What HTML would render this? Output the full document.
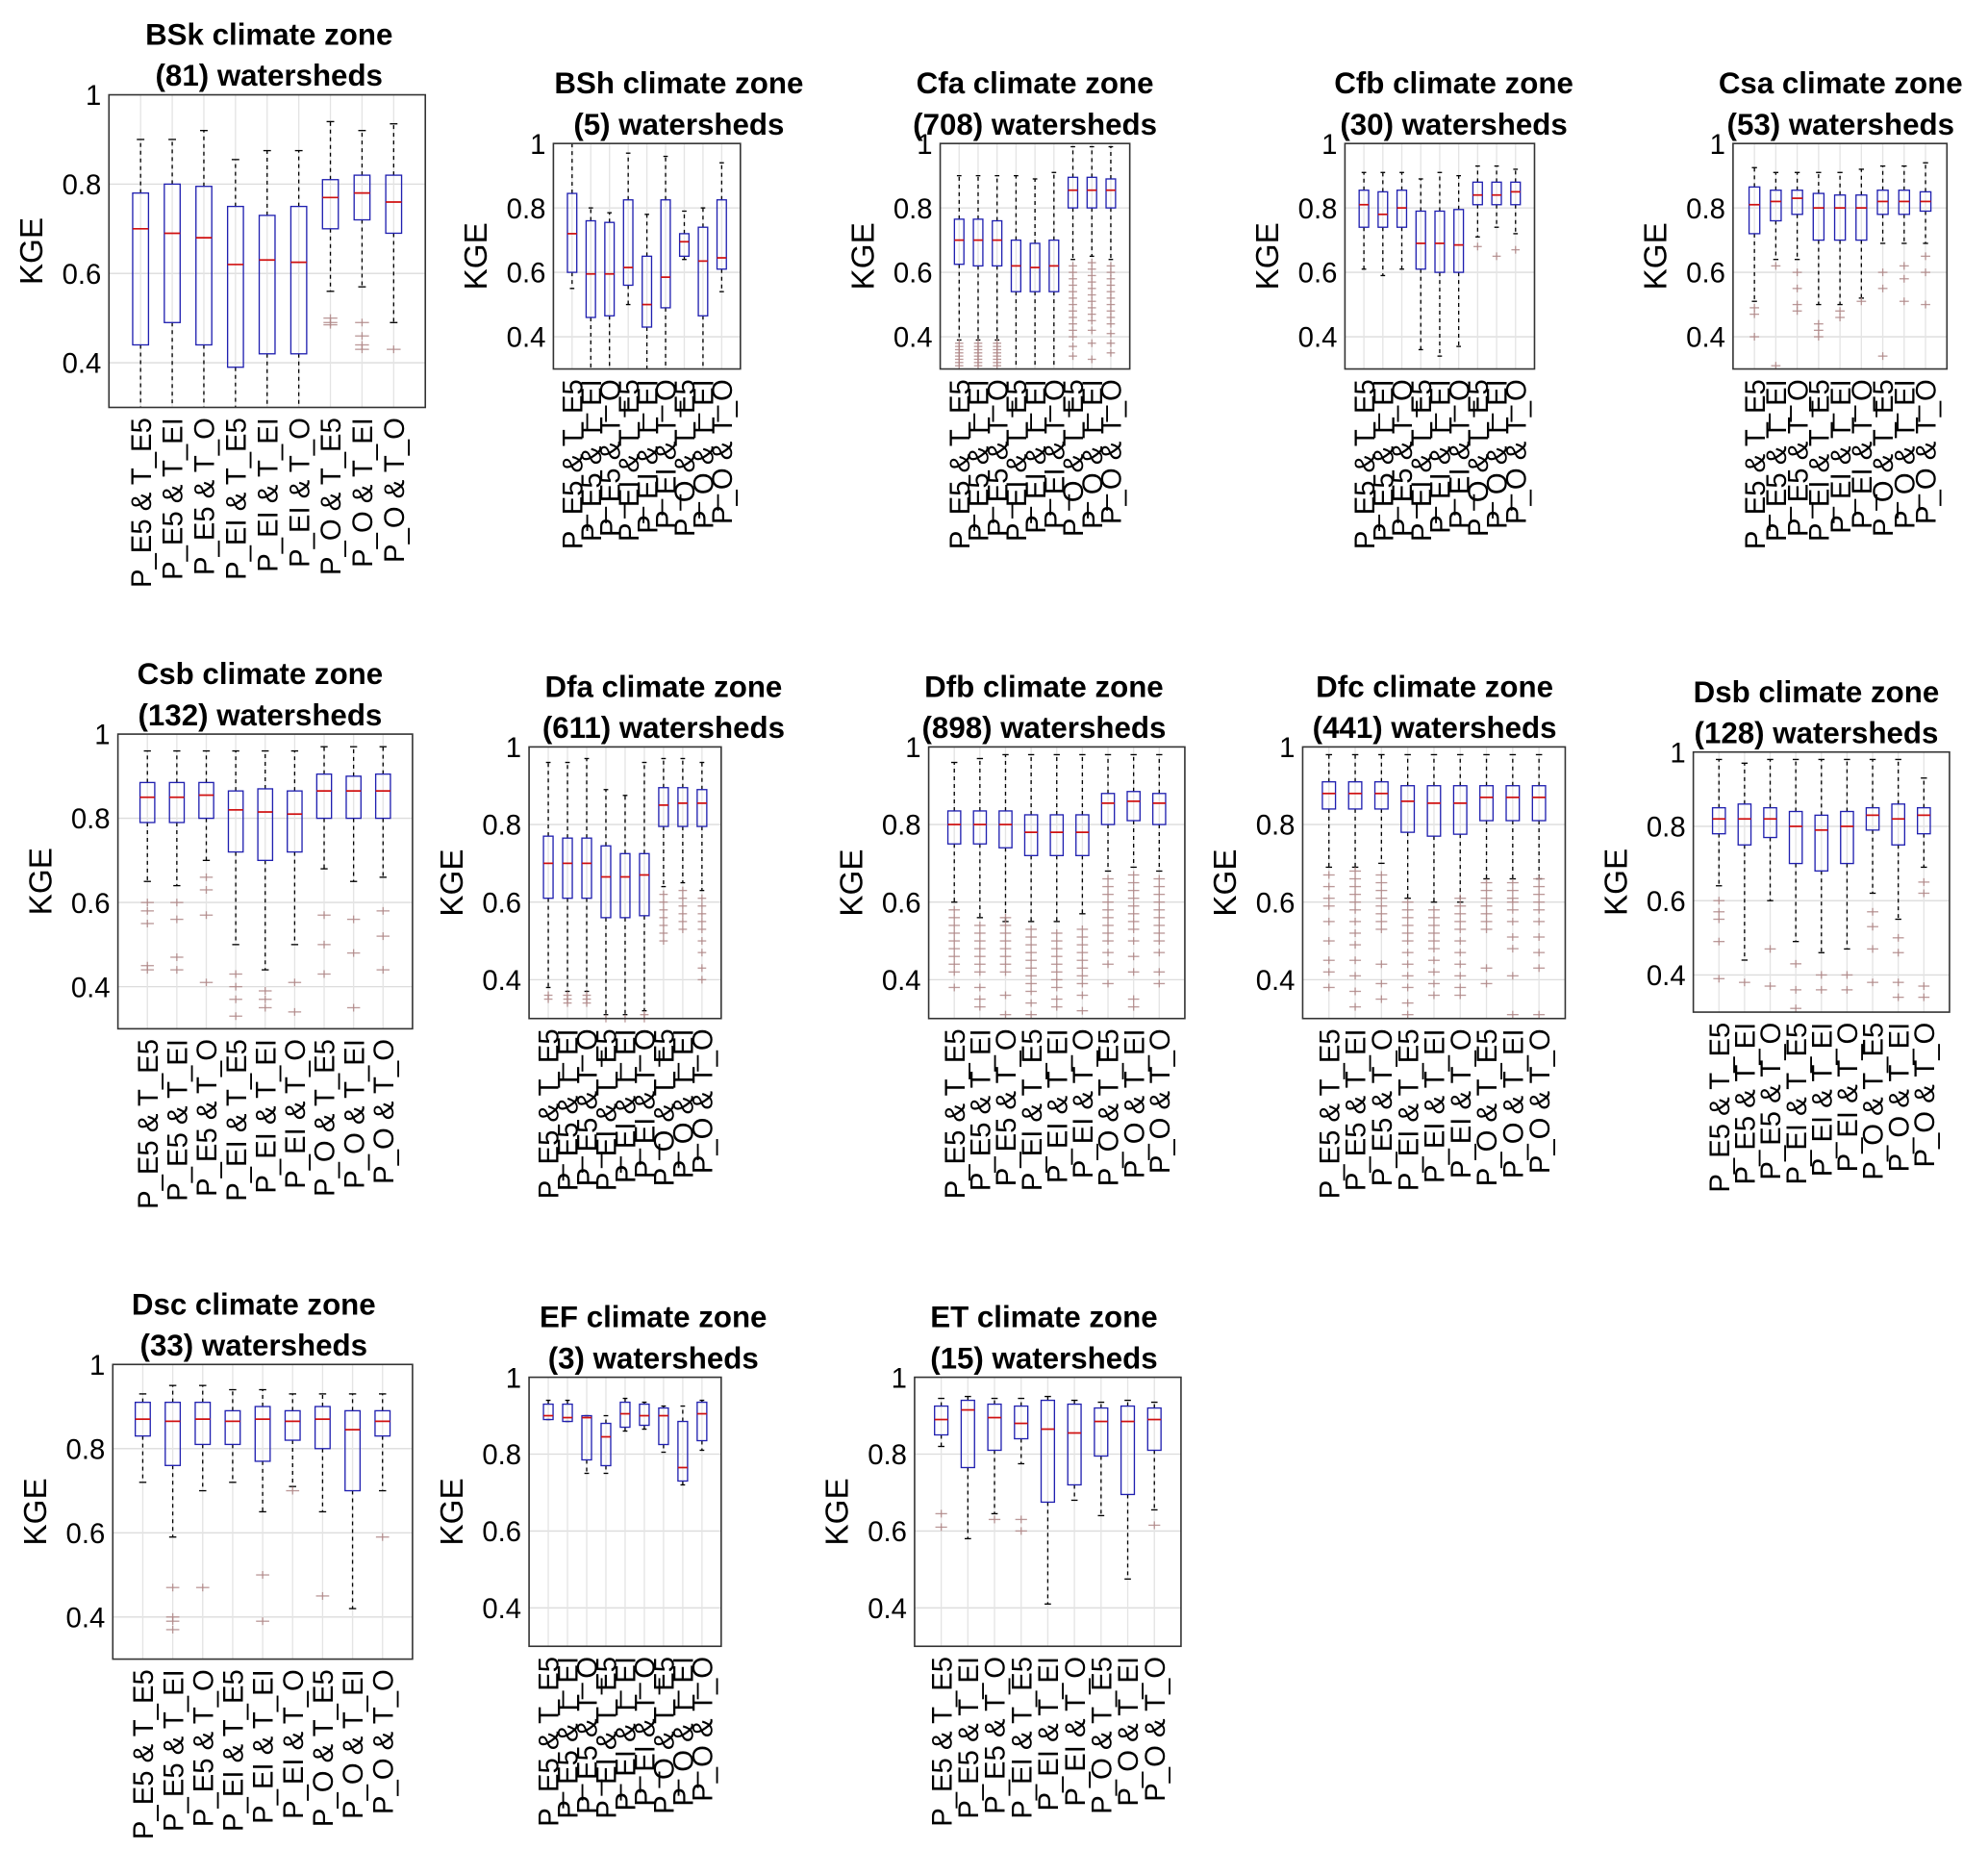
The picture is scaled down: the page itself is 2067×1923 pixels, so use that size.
<!DOCTYPE html>
<html><head><meta charset="utf-8"><style>
html,body{margin:0;padding:0;background:#fff}
svg{display:block}
text{font-family:"Liberation Sans",Arial,sans-serif}
</style></head><body>
<svg id="fig" width="2067" height="1923" viewBox="0 0 1552 1444" xmlns="http://www.w3.org/2000/svg"></svg>
<script>
// Category labels
const categories = ["P_E5 & T_E5","P_E5 & T_EI","P_E5 & T_O","P_EI & T_E5","P_EI & T_EI","P_EI & T_O","P_O & T_E5","P_O & T_EI","P_O & T_O"];
const yTicks = [0.4,0.6,0.8,1];
const yTickLabels = ["0.4","0.6","0.8","1"];
const zoneNames = ["BSk","BSh","Cfa","Cfb","Csa","Csb","Dfa","Dfb","Dfc","Dsb","Dsc","EF","ET"];
const zoneCounts = [81,5,708,30,53,132,611,898,441,128,33,3,15];
// stats: [lowWhisker, q1, median, q3, highWhisker]
const statsBSk = [[.3,.44,.70,.78,.90],[.3,.49,.69,.80,.90],[.3,.44,.68,.795,.92],[.3,.39,.62,.75,.855],[.3,.42,.63,.73,.875],[.3,.42,.625,.75,.875],[.56,.70,.77,.81,.94],[.57,.72,.78,.82,.92],[.49,.69,.76,.82,.935]];
const outBSk = [[],[],[],[],[],[],[.49,.50,.485],[.49,.46,.44,.43],[.43]];
const statsBSh = [[.55,.60,.72,.845,1.0],[.3,.46,.595,.76,.80],[.3,.465,.595,.755,.785],[.50,.56,.615,.825,.97],[.3,.43,.50,.65,.78],[.3,.49,.585,.825,.96],[.64,.65,.695,.72,.79],[.3,.465,.635,.74,.80],[.54,.61,.645,.825,.94]];
const outBSh = [[],[],[],[],[],[],[],[],[]];
const statsCfa = [[.39,.625,.70,.765,.90],[.39,.62,.70,.765,.90],[.39,.62,.70,.76,.90],[.3,.54,.62,.70,.90],[.3,.54,.615,.69,.89],[.3,.54,.62,.70,.91],[.64,.80,.855,.895,.99],[.65,.80,.855,.895,.99],[.64,.80,.855,.89,.99]];
const outCfa = [[.38,.37,.36,.35,.34,.33,.32,.31],[.38,.37,.36,.35,.34,.33,.32,.31],[.38,.37,.36,.35,.34,.33,.32,.31],[],[],[],[.62,.60,.58,.56,.54,.52,.50,.48,.46,.44,.42,.40,.37,.34],[.63,.61,.59,.57,.55,.53,.51,.49,.47,.45,.42,.38,.33],[.62,.60,.58,.56,.54,.52,.50,.48,.46,.44,.41,.38,.35]];
const statsCfb = [[.61,.74,.81,.855,.91],[.59,.74,.78,.85,.91],[.61,.74,.80,.855,.91],[.36,.61,.69,.79,.89],[.34,.60,.69,.79,.91],[.37,.60,.685,.795,.90],[.71,.81,.84,.88,.93],[.74,.81,.84,.88,.93],[.72,.81,.85,.88,.92]];
const outCfb = [[],[],[],[],[],[],[.68],[.65],[.67]];
const statsCsa = [[.51,.72,.81,.865,.925],[.64,.76,.82,.855,.91],[.64,.78,.83,.855,.91],[.50,.70,.80,.845,.91],[.50,.70,.80,.84,.91],[.52,.70,.80,.84,.92],[.69,.78,.82,.855,.93],[.69,.78,.82,.855,.93],[.69,.79,.82,.85,.94]];
const outCsa = [[.49,.47,.40],[.62,.31],[.60,.55,.50,.48],[.44,.42,.40],[.48,.46],[.51],[.60,.55,.34],[.62,.58,.51],[.65,.60,.50]];
const statsCsb = [[.65,.79,.85,.885,.96],[.64,.79,.85,.885,.96],[.70,.80,.855,.885,.96],[.50,.72,.82,.865,.96],[.44,.70,.815,.87,.96],[.50,.72,.81,.865,.96],[.68,.80,.865,.905,.97],[.65,.80,.865,.90,.97],[.66,.80,.865,.905,.97]];
const outCsb = [[.60,.58,.55,.45,.44],[.60,.56,.47,.44],[.66,.63,.57,.41],[.43,.40,.37,.33],[.39,.37,.35],[.41,.34],[.57,.50,.43],[.56,.48,.35],[.58,.52,.44]];
const statsDfa = [[.38,.61,.70,.77,.96],[.37,.61,.70,.765,.96],[.37,.61,.70,.765,.97],[.31,.56,.665,.745,.89],[.31,.56,.665,.725,.875],[.32,.565,.67,.725,.96],[.64,.795,.85,.895,.97],[.65,.795,.855,.895,.97],[.63,.795,.855,.89,.96]];
const outDfa = [[.36,.35],[.36,.35,.34],[.36,.35,.34],[.30],[.30],[.31,.30],[.62,.60,.58,.56,.54,.52,.50],[.63,.61,.59,.57,.55,.53],[.61,.59,.57,.55,.53,.50,.47,.43,.40]];
const statsDfb = [[.60,.75,.80,.835,.96],[.56,.75,.80,.835,.97],[.55,.74,.80,.835,.98],[.55,.72,.78,.825,.98],[.55,.72,.78,.825,.98],[.57,.72,.78,.825,.98],[.68,.80,.855,.88,.98],[.69,.81,.86,.885,.98],[.68,.80,.855,.88,.98]];
const outDfb = [[.58,.56,.54,.52,.50,.48,.46,.44,.42,.38],[.54,.52,.50,.48,.46,.44,.42,.38,.35,.33],[.56,.54,.52,.50,.48,.46,.44,.42,.36,.31],[.53,.51,.49,.47,.45,.43,.41,.39,.37,.34,.31],[.52,.50,.48,.46,.44,.42,.40,.38,.35,.33],[.53,.51,.49,.47,.45,.43,.41,.39,.36,.32],[.66,.64,.62,.60,.58,.56,.54,.52,.50,.47,.44,.39],[.67,.65,.63,.61,.59,.57,.55,.53,.50,.46,.42,.35,.33],[.66,.64,.62,.60,.58,.56,.54,.52,.50,.47,.42,.39]];
const statsDfc = [[.69,.84,.88,.91,.98],[.69,.84,.88,.91,.98],[.70,.84,.88,.91,.98],[.61,.78,.86,.90,.98],[.60,.77,.855,.90,.98],[.60,.775,.855,.90,.98],[.66,.81,.87,.90,.98],[.66,.81,.87,.90,.98],[.66,.81,.87,.90,.98]];
const outDfc = [[.67,.64,.61,.59,.55,.50,.45,.42,.38],[.68,.66,.64,.62,.60,.58,.55,.52,.49,.45,.41,.37,.33],[.67,.65,.63,.61,.59,.57,.55,.53,.44,.39,.35],[.60,.58,.56,.54,.52,.50,.47,.44,.41,.38,.34,.31],[.58,.56,.54,.52,.50,.48,.45,.42,.39,.36],[.61,.59,.57,.55,.53,.50,.47,.44,.41,.38,.36],[.65,.63,.61,.59,.57,.55,.53,.43,.39],[.65,.63,.61,.60,.58,.55,.51,.48,.41,.31],[.66,.64,.62,.60,.58,.55,.51,.47,.43,.31]];
const statsDsb = [[.64,.78,.82,.85,.98],[.44,.75,.82,.86,.97],[.60,.77,.82,.85,.98],[.49,.70,.80,.84,.98],[.46,.68,.79,.83,.98],[.47,.70,.80,.84,.98],[.62,.79,.83,.85,.98],[.55,.75,.82,.86,.98],[.69,.78,.83,.85,.93]];
const outDsb = [[.60,.57,.55,.49,.39],[.38],[.47,.37],[.43,.36,.31],[.40,.36],[.40,.36],[.57,.53,.47,.38],[.50,.46,.38,.34],[.65,.62,.37,.34]];
const statsDsc = [[.72,.83,.87,.91,.93],[.59,.76,.865,.91,.95],[.70,.81,.87,.91,.95],[.72,.81,.865,.89,.94],[.65,.77,.87,.90,.94],[.71,.82,.865,.89,.93],[.65,.80,.87,.90,.93],[.42,.70,.845,.89,.93],[.70,.83,.865,.89,.93]];
const outDsc = [[],[.47,.40,.39,.37],[.47],[],[.50,.39],[.70],[.45],[],[.59]];
const statsEF = [[.89,.89,.90,.93,.94],[.885,.885,.895,.93,.94],[.75,.785,.895,.90,.90],[.75,.77,.845,.88,.90],[.86,.87,.905,.935,.945],[.865,.875,.90,.93,.935],[.805,.825,.90,.92,.925],[.72,.73,.765,.885,.925],[.81,.835,.905,.935,.94]];
const outEF = [[],[],[],[],[],[],[],[],[]];
const statsET = [[.82,.85,.89,.925,.945],[.58,.765,.915,.94,.95],[.645,.81,.895,.93,.945],[.775,.84,.88,.925,.945],[.41,.675,.865,.94,.95],[.68,.72,.855,.93,.94],[.64,.795,.885,.92,.935],[.475,.695,.885,.925,.94],[.655,.81,.89,.92,.935]];
const outET = [[.645,.61],[],[.63],[.63,.60],[],[],[],[],[.615]];

const allStats = [statsBSk,statsBSh,statsCfa,statsCfb,statsCsa,statsCsb,statsDfa,statsDfb,statsDfc,statsDsb,statsDsc,statsEF,statsET];
const allOut = [outBSk,outBSh,outCfa,outCfb,outCsa,outCsb,outDfa,outDfb,outDfc,outDsb,outDsc,outEF,outET];
// layout [left,right,top,bottom,titleCenterX]
const layout = [[85,332,74,318,210],[432,578,112,288,530],[734,882,112,288,808],[1050,1198,112,288,1135],[1353,1520,112,288,1437],
[92,322,573,803,203],[413,563,583,795,518],[725,925,583,795,815],[1017,1222,583,795,1120],[1322,1522,587,790,1418],
[88,322,1065,1295,198],[413,563,1075,1285,510],[714,922,1075,1285,815]];

const NS="http://www.w3.org/2000/svg";
const svg=document.getElementById('fig');
function mk(tag,attrs,parent){const e=document.createElementNS(NS,tag);for(const k in attrs)e.setAttribute(k,attrs[k]);parent.appendChild(e);return e;}

zoneNames.forEach((zn,p)=>{
  const [L,R,T,B,tc]=layout[p];
  const stats=allStats[p], outs=allOut[p];
  const g=mk('g',{},svg);
  
  
  const ys=v=>B-(v-0.3)/0.7*(B-T);
  const xs=i=>L+(i+1)/10*(R-L);
  const sp=(R-L)/10;
  const t1=mk('text',{x:tc,y:T-39,'text-anchor':'middle','font-size':23.5,'font-weight':'bold'},g);
  t1.textContent=zn+' climate zone';
  
  
  const t2=mk('text',{x:tc,y:T-7,'text-anchor':'middle','font-size':23.5,'font-weight':'bold'},g);
  t2.textContent='('+zoneCounts[p]+') watersheds';
  
  
  yTicks.forEach((v,k)=>{
    if(v<1) mk('line',{x1:L,x2:R,y1:ys(v),y2:ys(v),stroke:'#dcdcdc','stroke-width':1},g);
    const tl=mk('text',{x:L-6,y:ys(v)+8,'text-anchor':'end','font-size':22},g);
    tl.textContent=yTickLabels[k];
    
    
  });
  categories.forEach((c,i)=>{
    mk('line',{x1:xs(i),x2:xs(i),y1:T,y2:B,stroke:'#e4e4e4','stroke-width':1},g);
  });
  const yl=mk('text',{x:0,y:0,'text-anchor':'middle','font-size':25,transform:`translate(${L-52},${(T+B)/2}) rotate(-90)`},g);
  yl.textContent='KGE';
  
  
  stats.forEach((s,i)=>{
    const x=xs(i);
    const bg=mk('g',{},g);
    
    
    const lo=Math.max(s[0],0.3), hi=Math.min(s[4],1.0);
    mk('line',{x1:x,x2:x,y1:ys(s[3]),y2:ys(hi),stroke:'#000','stroke-width':1,'stroke-dasharray':'3,3'},bg);
    mk('line',{x1:x,x2:x,y1:ys(s[1]),y2:ys(lo),stroke:'#000','stroke-width':1,'stroke-dasharray':'3,3'},bg);
    if(s[4]<1) mk('line',{x1:x-sp*0.12,x2:x+sp*0.12,y1:ys(s[4]),y2:ys(s[4]),stroke:'#000','stroke-width':1},bg);
    if(s[0]>0.3) mk('line',{x1:x-sp*0.12,x2:x+sp*0.12,y1:ys(s[0]),y2:ys(s[0]),stroke:'#000','stroke-width':1},bg);
    mk('rect',{x:x-sp*0.25,y:ys(s[3]),width:sp*0.5,height:Math.max(ys(s[1])-ys(s[3]),0.5),fill:'none',stroke:'#2020b0','stroke-width':1},bg);
    mk('line',{x1:x-sp*0.25,x2:x+sp*0.25,y1:ys(s[2]),y2:ys(s[2]),stroke:'#d01010','stroke-width':1.3},bg);
    outs[i].forEach(v=>{
      const y=ys(v);
      mk('line',{x1:x-sp*0.22,x2:x+sp*0.22,y1:y,y2:y,stroke:'#b08888','stroke-width':1,opacity:0.85},bg);
      mk('line',{x1:x,x2:x,y1:y-3,y2:y+3,stroke:'#b08888','stroke-width':1,opacity:0.85},bg);
    });
    const xl=mk('text',{x:0,y:0,'text-anchor':'end','font-size':22,transform:`translate(${x+8},${B+8}) rotate(-90)`},g);
    xl.textContent=categories[i];
    
    
  });
  mk('rect',{x:L,y:T,width:R-L,height:B-T,fill:'none',stroke:'#333','stroke-width':1.2},g);
});
</script>
</body></html>
